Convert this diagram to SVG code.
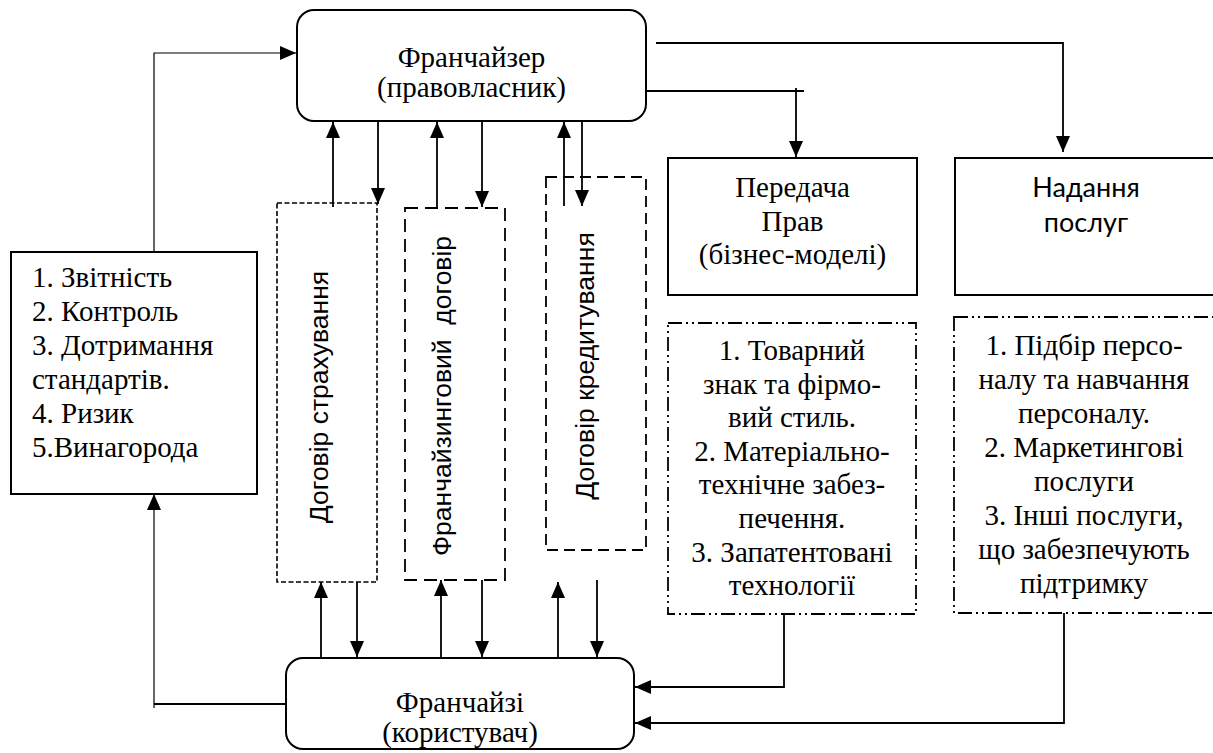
<svg xmlns="http://www.w3.org/2000/svg" width="1213" height="753" viewBox="0 0 1213 753">
<style>
.bg{fill:#fff}
.box{fill:#fff;stroke:#000;stroke-width:2}
.d1{fill:none;stroke:#000;stroke-width:1.6;stroke-dasharray:5 2.5}
.d2{fill:none;stroke:#000;stroke-width:1.8;stroke-dasharray:13 7}
.d3{fill:none;stroke:#000;stroke-width:1.8;stroke-dasharray:11 6}
.dd{fill:none;stroke:#000;stroke-width:1.8;stroke-dasharray:14 4 2 4 2 4}
.c{fill:none;stroke:#000;stroke-width:1.8}
.thin{fill:none;stroke:#000;stroke-width:1.2}
.serif{font-family:"Liberation Serif","Times New Roman",serif;font-size:29px;fill:#000}
.sans{font-family:"Liberation Sans",Arial,sans-serif;font-size:26.5px;fill:#000}
.cal{font-family:Lato,"Liberation Sans",sans-serif;font-size:27px;fill:#000}
</style>
<defs>
<marker id="ah" markerUnits="userSpaceOnUse" markerWidth="17" markerHeight="15" refX="16" refY="7" orient="auto">
<path d="M0,0 L16,7 L0,14 z" fill="#000"/>
</marker>
</defs>
<rect class="bg" x="0" y="0" width="1213" height="753"/>

<g id="connectors">
<path class="thin" d="M154,252 V53 H296" marker-end="url(#ah)"/>
<path class="c" d="M286,704 H154" />
<path class="thin" d="M154,708 V494" marker-end="url(#ah)"/>
<path class="c" d="M656,43 H1063 V152" marker-end="url(#ah)"/>
<path class="c" d="M646,91 H804"/>
<path class="c" d="M796,88 V157" marker-end="url(#ah)"/>
<path class="c" d="M784,614 V687 H635" marker-end="url(#ah)"/>
<path class="c" d="M1064,613 V723 H635" marker-end="url(#ah)"/>
<path class="c" d="M333,207 V122" marker-end="url(#ah)"/>
<path class="c" d="M378,121 V204" marker-end="url(#ah)"/>
<path class="c" d="M437,207 V122" marker-end="url(#ah)"/>
<path class="c" d="M482,121 V207" marker-end="url(#ah)"/>
<path class="c" d="M564,206 V122" marker-end="url(#ah)"/>
<path class="c" d="M582,121 V206" marker-end="url(#ah)"/>
<path class="c" d="M321,658 V582" marker-end="url(#ah)"/>
<path class="c" d="M357,582 V657" marker-end="url(#ah)"/>
<path class="c" d="M441,658 V580" marker-end="url(#ah)"/>
<path class="c" d="M482,580 V657" marker-end="url(#ah)"/>
<path class="c" d="M558,658 V582" marker-end="url(#ah)"/>
<path class="c" d="M597,580 V657" marker-end="url(#ah)"/>
</g>

<g id="franchisor">
<rect class="box" x="297" y="10" width="349" height="111" rx="17"/>
<text class="serif" x="471.5" y="67" text-anchor="middle">Франчайзер</text>
<text class="serif" x="471.5" y="97" text-anchor="middle">(правовласник)</text>
</g>

<g id="franchisee">
<rect class="box" x="286" y="658" width="348" height="91" rx="17"/>
<text class="serif" x="460" y="712" text-anchor="middle">Франчайзі</text>
<text class="serif" x="460" y="742" text-anchor="middle">(користувач)</text>
</g>

<g id="obligations">
<rect class="box" x="11" y="252" width="246" height="242"/>
<text class="serif" x="32" y="287">1. Звітність</text>
<text class="serif" x="32" y="321">2. Контроль</text>
<text class="serif" x="32" y="355">3. Дотримання</text>
<text class="serif" x="32" y="389">стандартів.</text>
<text class="serif" x="32" y="423">4. Ризик</text>
<text class="serif" x="32" y="457">5.Винагорода</text>
</g>

<g id="insurance">
<rect class="d1" x="277" y="203" width="100" height="379"/>
<text class="sans" transform="translate(328,397) rotate(-90)" text-anchor="middle">Договір страхування</text>
</g>

<g id="franchise-contract">
<rect class="d2" x="405" y="208" width="100" height="372"/>
<text class="sans" transform="translate(451,396) rotate(-90)" text-anchor="middle" xml:space="preserve">Франчайзинговий  договір</text>
</g>

<g id="credit">
<rect class="d3" x="546" y="177" width="100" height="373"/>
<text class="sans" transform="translate(594,366) rotate(-90)" text-anchor="middle">Договір кредитування</text>
</g>

<g id="rights">
<rect class="box" x="668" y="158" width="249" height="137"/>
<text class="serif" x="792.5" y="197" text-anchor="middle">Передача</text>
<text class="serif" x="792.5" y="231" text-anchor="middle">Прав</text>
<text class="serif" x="792.5" y="264" text-anchor="middle">(бізнес-моделі)</text>
</g>

<g id="services">
<rect class="box" x="955" y="158" width="262" height="137"/>
<text class="cal" x="1086" y="197" text-anchor="middle">Надання</text>
<text class="cal" x="1086" y="232" text-anchor="middle">послуг</text>
</g>

<g id="rights-list">
<rect class="dd" x="668" y="323" width="248" height="291"/>
<text class="serif" x="792" y="360" text-anchor="middle">1. Товарний</text>
<text class="serif" x="792" y="393.6" text-anchor="middle">знак та фірмо-</text>
<text class="serif" x="792" y="427.2" text-anchor="middle">вий стиль.</text>
<text class="serif" x="792" y="460.8" text-anchor="middle">2. Матеріально-</text>
<text class="serif" x="792" y="494.4" text-anchor="middle">технічне забез-</text>
<text class="serif" x="792" y="528" text-anchor="middle">печення.</text>
<text class="serif" x="792" y="561.6" text-anchor="middle">3. Запатентовані</text>
<text class="serif" x="792" y="595.2" text-anchor="middle">технології</text>
</g>

<g id="services-list">
<rect class="dd" x="954" y="317" width="266" height="296"/>
<text class="serif" x="1084" y="355" text-anchor="middle">1. Підбір персо-</text>
<text class="serif" x="1084" y="389" text-anchor="middle">налу та навчання</text>
<text class="serif" x="1084" y="423" text-anchor="middle">персоналу.</text>
<text class="serif" x="1084" y="457" text-anchor="middle">2. Маркетингові</text>
<text class="serif" x="1084" y="491" text-anchor="middle">послуги</text>
<text class="serif" x="1084" y="525" text-anchor="middle">3. Інші послуги,</text>
<text class="serif" x="1084" y="559" text-anchor="middle">що забезпечують</text>
<text class="serif" x="1084" y="593" text-anchor="middle">підтримку</text>
</g>
</svg>
